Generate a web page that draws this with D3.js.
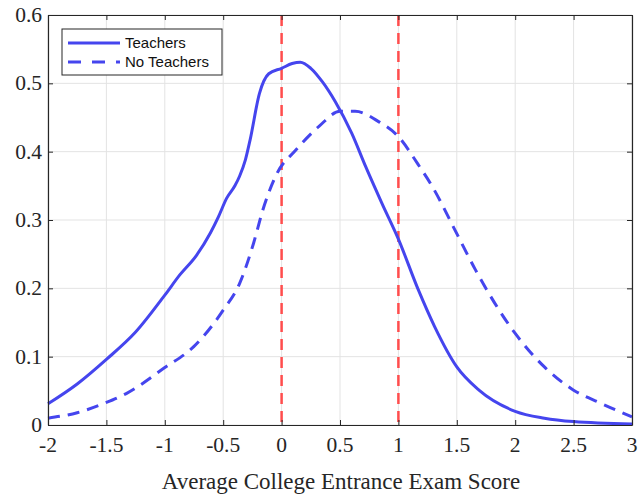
<!DOCTYPE html>
<html>
<head>
<meta charset="utf-8">
<script src="https://cdn.jsdelivr.net/npm/d3@7"></script>
<style>
  body { margin: 0; background: #fff; }
  .ticklabel { font-family: "Liberation Serif", "Times New Roman", serif; font-size: 21.5px; fill: #262626; }
</style>
</head>
<body>
<div id="chart"></div>
<script>
// data
const teachersX = [-2, -1.75, -1.5, -1.25, -1, -0.87, -0.73, -0.61, -0.54, -0.47, -0.4, -0.36, -0.31, -0.27, -0.19, -0.11, 0, 0.09, 0.16, 0.25, 0.35, 0.46, 0.6, 0.72, 0.86, 1, 1.17, 1.31, 1.5, 1.69, 2, 2.25, 2.5, 3]
const teachersY = [0.031, 0.06, 0.096, 0.136, 0.19, 0.22, 0.248, 0.281, 0.305, 0.332, 0.35, 0.364, 0.388, 0.417, 0.485, 0.514, 0.522, 0.529, 0.531, 0.522, 0.502, 0.473, 0.427, 0.378, 0.324, 0.272, 0.198, 0.144, 0.085, 0.051, 0.02, 0.01, 0.005, 0.0015]

const noTeachersX = [-2, -1.75, -1.5, -1.33, -1, -0.75, -0.5, -0.36, -0.24, -0.16, -0.04, 0.12, 0.32, 0.5, 0.63, 0.83, 1, 1.17, 1.29, 1.5, 1.66, 2, 2.25, 2.5, 2.73, 3]
const noTeachersY = [0.01, 0.018, 0.033, 0.046, 0.084, 0.115, 0.168, 0.207, 0.266, 0.315, 0.368, 0.402, 0.437, 0.459, 0.459, 0.444, 0.422, 0.381, 0.349, 0.28, 0.227, 0.134, 0.085, 0.051, 0.032, 0.012]

const refLines = [0, 1]
const xTicks = [-2, -1.5, -1, -0.5, 0, 0.5, 1, 1.5, 2, 2.5, 3]
const yTicks = [0, 0.1, 0.2, 0.3, 0.4, 0.5, 0.6]
const seriesNames = ['Teachers', 'No Teachers']

// canvas
const svgWidth = 639
const svgHeight = 495
const margin = { top: 15, right: 7, bottom: 70, left: 48 }
const width = svgWidth - margin.left - margin.right
const height = svgHeight - margin.top - margin.bottom

const blue = '#4545ee'
const red = '#ff4d4d'
const axisColor = '#262626'
const serif = '"Liberation Serif", "Times New Roman", serif'

const svg = d3.select('#chart').append('svg').attr('width', svgWidth).attr('height', svgHeight)
const chartGroup = svg.append('g').attr('transform', `translate(${margin.left}, ${margin.top})`)

const x = d3.scaleLinear().domain([-2, 3]).range([0, width])
const y = d3.scaleLinear().domain([0, 0.6]).range([height, 0])

// grid
chartGroup.append('g').selectAll('line').data(xTicks).enter().append('line')
  .attr('x1', d => x(d)).attr('x2', d => x(d)).attr('y1', 0).attr('y2', height)
  .attr('stroke', '#e3e3e3').attr('stroke-width', 1)
chartGroup.append('g').selectAll('line').data(yTicks).enter().append('line')
  .attr('y1', d => y(d)).attr('y2', d => y(d)).attr('x1', 0).attr('x2', width)
  .attr('stroke', '#e3e3e3').attr('stroke-width', 1)

// red reference lines
chartGroup.append('g').selectAll('line').data(refLines).enter().append('line')
  .attr('x1', d => x(d)).attr('x2', d => x(d)).attr('y1', 0).attr('y2', height)
  .attr('stroke', red).attr('stroke-width', 2.5).attr('stroke-dasharray', '11,7')

// curves
const line = d3.line().x(d => x(d[0])).y(d => y(d[1])).curve(d3.curveMonotoneX)
chartGroup.append('path').datum(d3.zip(noTeachersX, noTeachersY))
  .attr('d', line).attr('fill', 'none').attr('stroke', blue).attr('stroke-width', 3)
  .attr('stroke-dasharray', '12,8')
chartGroup.append('path').datum(d3.zip(teachersX, teachersY))
  .attr('d', line).attr('fill', 'none').attr('stroke', blue).attr('stroke-width', 3)

// axes, ticks pointing inward, box on; labels drawn separately below
function styleAxis(g) {
  g.select('.domain').attr('stroke', axisColor).attr('stroke-width', 1.2)
  g.selectAll('.tick line').attr('stroke', axisColor)
}
const bottomAxis = d3.axisBottom(x).tickValues(xTicks).tickSize(-5).tickSizeOuter(0).tickFormat('')
const leftAxis = d3.axisLeft(y).tickValues(yTicks).tickSize(-5).tickSizeOuter(0).tickFormat('')
const topAxis = d3.axisTop(x).tickValues(xTicks).tickSize(-5).tickSizeOuter(0).tickFormat('')
const rightAxis = d3.axisRight(y).tickValues(yTicks).tickSize(-5).tickSizeOuter(0).tickFormat('')

chartGroup.append('g').attr('transform', `translate(0, ${height})`).call(bottomAxis).call(styleAxis)
chartGroup.append('g').call(leftAxis).call(styleAxis)
chartGroup.append('g').call(topAxis).call(styleAxis)
chartGroup.append('g').attr('transform', `translate(${width}, 0)`).call(rightAxis).call(styleAxis)

// tick labels
chartGroup.append('g').selectAll('text').data(xTicks).enter().append('text')
  .attr('class', 'ticklabel').attr('x', d => x(d)).attr('y', height + 27)
  .attr('text-anchor', 'middle').text(d => String(d))
chartGroup.append('g').selectAll('text').data(yTicks).enter().append('text')
  .attr('class', 'ticklabel').attr('x', -6).attr('y', d => y(d)).attr('dy', '0.32em')
  .attr('text-anchor', 'end').text(d => String(d))

// axis label
svg.append('text').attr('x', 341).attr('y', 489)
  .attr('text-anchor', 'middle').style('font-family', serif).style('font-size', '23px')
  .attr('fill', '#262626').text('Average College Entrance Exam Score')

// legend
const legend = svg.append('g').attr('transform', 'translate(62, 29)')
legend.append('rect').attr('width', 160).attr('height', 46)
  .attr('fill', '#fff').attr('stroke', axisColor).attr('stroke-width', 1)
const entries = legend.selectAll('g').data(seriesNames).enter().append('g')
  .attr('transform', (d, i) => `translate(0, ${14 + i * 19})`)
entries.append('line').attr('x1', 6).attr('x2', 58)
  .attr('stroke', blue).attr('stroke-width', 3)
  .attr('stroke-dasharray', (d, i) => i === 1 ? '13,11' : null)
entries.append('text').attr('x', 63).attr('dy', '0.35em')
  .style('font-family', '"Liberation Sans", Arial, sans-serif').style('font-size', '15px')
  .attr('fill', '#111').text(d => d)
</script>
</body>
</html>
